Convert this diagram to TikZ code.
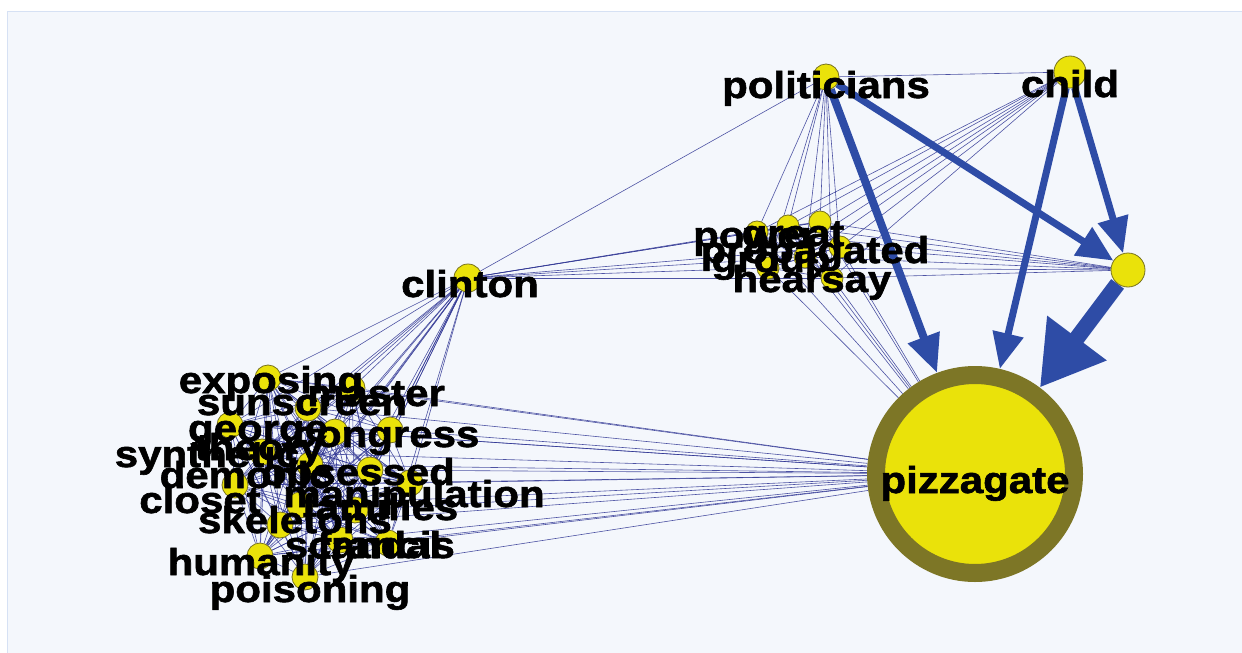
\documentclass[tikz,border=0pt]{standalone}
\usepackage{fontspec}
\newfontfamily\lblfont{Liberation Sans}[FakeStretch=1.12, FakeBold=1.6]
\usetikzlibrary{arrows.meta}
\definecolor{bgpanel}{RGB}{244,247,252}
\definecolor{panelline}{RGB}{214,225,244}
\definecolor{thinedge}{RGB}{48,54,148}
\definecolor{thickedge}{RGB}{46,76,166}
\definecolor{nodeyellow}{RGB}{234,226,10}
\definecolor{nodeedge}{RGB}{120,114,30}
\definecolor{ringcol}{RGB}{125,118,38}
\pgfdeclarelayer{bg}
\pgfdeclarelayer{edges}
\pgfsetlayers{bg,edges,main}
\begin{document}
\begin{tikzpicture}[x=1pt,y=-1pt,
  weak/.style={draw=thinedge, line width=0.6pt, opacity=0.85},
  strong/.style={draw=thickedge, line width=#1},
  dot/.style={circle, fill=nodeyellow, draw=nodeedge, line width=0.8pt, inner sep=0pt, minimum size=#1},
  dot/.default=24pt,
  lbl/.style={anchor=base, inner sep=0pt, font=\lblfont\bfseries\fontsize{37.5}{37.5}\selectfont, text=black}]
\useasboundingbox (0,0) rectangle (1242,653);
\begin{pgfonlayer}{bg}
\fill[white] (0,0) rectangle (1242,653);
\filldraw[fill=bgpanel, draw=panelline, line width=1.2pt] (7.5,11.5) rectangle (1250,660);
\end{pgfonlayer}

% main nodes
\node[dot=26pt] (pol) at (826,77) {};
\node[dot=32pt] (chi) at (1070,72) {};
\node[dot=34pt] (unk) at (1128,270) {};
\node[dot=28pt] (cli) at (468,278) {};
\node[circle, fill=nodeyellow, draw=ringcol, line width=18pt, minimum size=198pt, inner sep=0pt] (pz) at (975,474) {};

% top cluster
\foreach \n/\x/\y in {1/757/232, 2/788/226, 3/820/222, 4/840/247, 5/768/268, 6/832/278, 7/805/257}
  \node[dot=22pt] (T\n) at (\x,\y) {};

% left cluster
\foreach \n/\x/\y in {1/268/378, 2/352/388, 3/308/408, 4/230/425, 5/335/432, 6/390/430,
  7/262/452, 8/310/465, 9/370/470, 10/410/483, 11/235/485, 12/300/505, 13/355/510,
  14/340/540, 15/388/543, 16/260/556, 17/305/577, 18/280/525}
  \node[dot=26pt] (L\n) at (\x,\y) {};

\begin{pgfonlayer}{edges}
\draw[weak] (cli) -- (pol);
\draw[weak] (pol) -- (chi);
\foreach \i in {1,...,18} {
  \draw[weak] (cli) -- (L\i);
  \draw[weak] (L\i) -- (pz);
}
\foreach \i in {1,...,17} {
  \pgfmathtruncatemacro\s{\i+1}
  \foreach \j in {\s,...,18} { \draw[weak] (L\i) -- (L\j); }
}
\foreach \i in {1,...,7} {
  \draw[weak] (cli) -- (T\i);
  \draw[weak] (pol) -- (T\i);
  \draw[weak] (chi) -- (T\i);
  \draw[weak] (T\i) -- (unk);
  \draw[weak] (T\i) -- (pz);
}
\foreach \i in {1,...,6} {
  \pgfmathtruncatemacro\s{\i+1}
  \foreach \j in {\s,...,7} { \draw[weak] (T\i) -- (T\j); }
}
\draw[strong=8pt, -{Triangle[length=38pt,width=32pt]}] (pol) -- (pz);
\draw[strong=7pt, -{Triangle[length=36pt,width=32pt]}] (pol) -- (unk);
\draw[strong=7pt, -{Triangle[length=36pt,width=30pt]}] (chi) -- (pz);
\draw[strong=7pt, -{Triangle[length=36pt,width=30pt]}] (chi) -- (unk);
\draw[strong=16pt, -{Triangle[length=62pt,width=70pt]}] (unk) -- (pz);
\end{pgfonlayer}

% labels
\node[lbl] (lpol) at (826,98) {politicians};
\node[lbl] (lchi) at (1070,97) {child};
\node[lbl] (lcli) at (470,297) {clinton};
\node[lbl] (lpz) at (975,493) {pizzagate};

\node[lbl] (lt1) at (755,248) {power};
\node[lbl] (lt2) at (793,246) {great};
\node[lbl] (lt3) at (815,263) {propagated};
\node[lbl] (lt4) at (771,272) {group};
\node[lbl] (lt5) at (812,292) {hearsay};

\node[lbl] (ll1) at (271,393) {exposing};
\node[lbl] (ll2) at (376,406) {master};
\node[lbl] (ll3) at (302,415) {sunscreen};
\node[lbl] (ll4) at (258,441) {george};
\node[lbl] (ll5) at (386,447) {congress};
\node[lbl] (ll6) at (259,460) {theory};
\node[lbl] (ll7) at (207,467) {synthetic};
\node[lbl] (ll8) at (246,488) {demonic};
\node[lbl] (ll9) at (358,485) {obsessed};
\node[lbl] (ll10) at (200,513) {closet};
\node[lbl] (ll11) at (414,507) {manipulation};
\node[lbl] (ll12) at (380,520) {families};
\node[lbl] (ll13) at (295,533) {skeletons};
\node[lbl] (ll14) at (363,558) {scandal};
\node[lbl] (ll15) at (386,558) {francis};
\node[lbl] (ll16) at (261,575) {humanity};
\node[lbl] (ll17) at (310,602) {poisoning};
\end{tikzpicture}
\end{document}
